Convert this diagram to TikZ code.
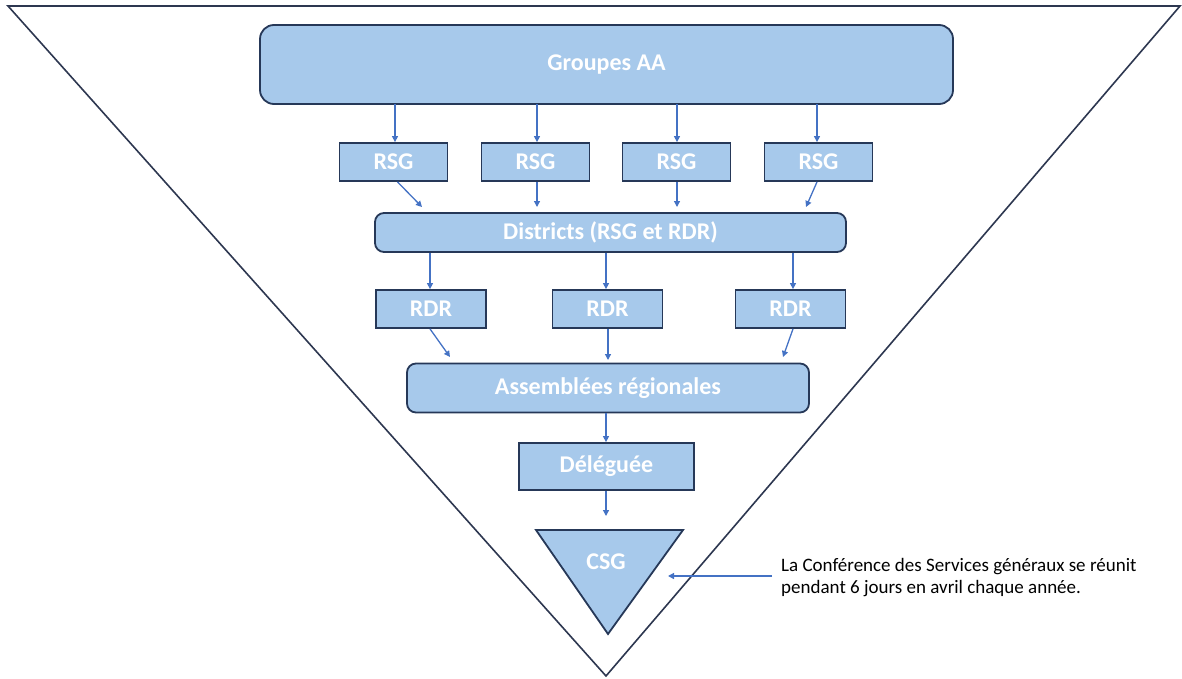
\documentclass[tikz,border=0pt]{standalone}
\usepackage{fontspec}
\setmainfont{Carlito}
\usetikzlibrary{arrows.meta,calc}
\definecolor{boxfill}{RGB}{167,201,235}
\definecolor{boxline}{RGB}{38,56,88}
\definecolor{arrowc}{RGB}{68,114,196}
\definecolor{trline}{RGB}{45,55,80}
\tikzset{
  box/.style={draw=boxline, line width=1.8pt, fill=boxfill, text=white, font=\bfseries\fontsize{24}{26}\selectfont, inner sep=0pt, align=center},
  rbox/.style={box, rounded corners=9pt},
  conn/.style={draw=arrowc, line width=1.3pt, -{Triangle[width=6pt,length=6pt]}},
}
\begin{document}
\begin{tikzpicture}[x=1pt,y=-1pt]
\useasboundingbox (0,0) rectangle (1182,679);
% big inverted triangle
\draw[trline, line width=1.6pt, line join=miter] (8,6) -- (1180,6) -- (606,676) -- cycle;

\node[rbox, rounded corners=14pt, minimum width=693pt, minimum height=79pt] (ga) at (606.5,64.5) {Groupes AA};

\foreach \i/\x in {1/393.5,2/535.5,3/676.5,4/818.5}
  \node[box, minimum width=108pt, minimum height=38pt] (rsg\i) at (\x,162) {RSG};

\node[rbox, minimum width=471pt, minimum height=39pt] (dist) at (610.5,232.5) {Districts (RSG et RDR)};

\foreach \i/\x in {1/431,2/607.5,3/790.5}
  \node[box, minimum width=110pt, minimum height=38pt] (rdr\i) at (\x,309) {RDR};

\node[rbox, minimum width=402pt, minimum height=49pt] (asm) at (608,388) {Assembl\'ees r\'egionales};

\node[box, minimum width=175pt, minimum height=47pt] (del) at (606.5,466.5) {D\'el\'egu\'ee};

% CSG triangle
\draw[boxline, line width=1.8pt, fill=boxfill, line join=miter] (536,530) -- (683,530) -- (608,634) -- cycle;
\node[text=white, font=\bfseries\fontsize{24}{26}\selectfont] (csg) at (606,562) {CSG};
\coordinate (csgright) at (668,576);

\node[anchor=west, align=left, font=\fontsize{19}{22.5}\selectfont, text=black, inner sep=0pt] (note) at (781,577.5)
  {La Conf\'erence des Services g\'en\'eraux se r\'eunit\\pendant 6 jours en avril chaque ann\'ee.};

% connectors
\foreach \i/\x in {1/395,2/537,3/677,4/817}
  \draw[conn] (\x,104) -- (rsg\i.north -| \x,0);

\coordinate (d1) at (422,207);
\coordinate (d2) at (537,207);
\coordinate (d3) at (677,207);
\coordinate (d4) at (806,207);
\draw[conn] ($(rsg1.south)+(4,0)$) -- (d1);
\draw[conn] (rsg2.south -| d2) -- (d2);
\draw[conn] (rsg3.south -| d3) -- (d3);
\draw[conn] (rsg4.south -| 817,0) -- (d4);

\foreach \i/\x in {1/430,2/606,3/793}
  \draw[conn] (dist.south -| \x,0) -- (rdr\i.north -| \x,0);

\coordinate (a1) at (450,357);
\coordinate (a2) at (608,360);
\coordinate (a3) at (783,357);
\draw[conn] (rdr1.south -| 430,0) -- (a1);
\draw[conn] (rdr2.south -| a2) -- (a2);
\draw[conn] (rdr3.south -| 793,0) -- (a3);

\draw[conn] (asm.south -| 606,0) -- (del.north -| 606,0);
\coordinate (c1) at (606,516);
\draw[conn] (del.south -| c1) -- (c1);

\coordinate (n0) at (772,576);
\draw[conn] (n0) -- (csgright);
\end{tikzpicture}
\end{document}
